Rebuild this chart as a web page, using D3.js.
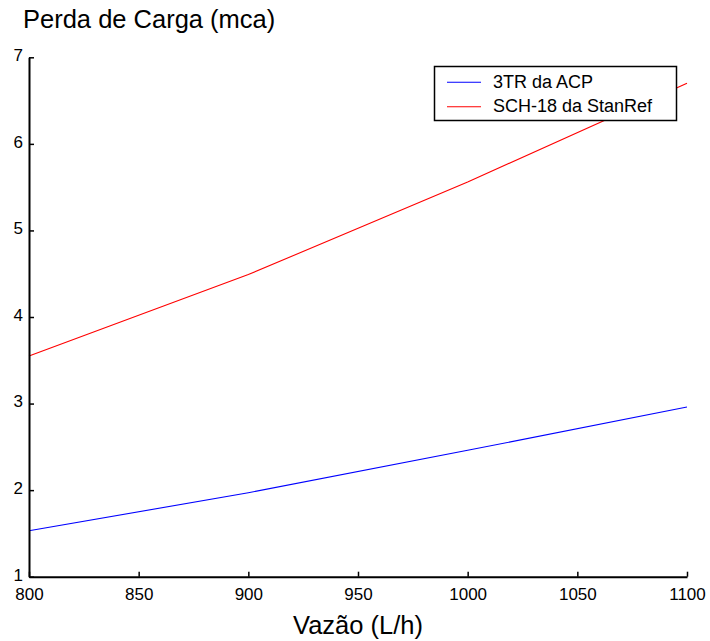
<!DOCTYPE html>
<html>
<head>
<meta charset="utf-8">
<script src="https://cdn.jsdelivr.net/npm/d3@7"></script>
<style>
  html, body { margin: 0; padding: 0; background: #fff; }
  svg { display: block; font-family: Arial, "Liberation Sans", Helvetica, sans-serif; }
</style>
</head>
<body>
<svg id="chart" width="710" height="641"></svg>
<script>
// Flow rate (L/h) and head loss (mca) for the two devices
const flowRates = [800, 900, 1000, 1100];
const loss3TR = [1.53, 1.97, 2.46, 2.96];
const lossSCH18 = [3.55, 4.49, 5.56, 6.70];
const seriesNames = ["3TR da ACP", "SCH-18 da StanRef"];
const seriesColors = ["#0000ff", "#ff0000"];
const xTicks = [800, 850, 900, 950, 1000, 1050, 1100];
const yTicks = [1, 2, 3, 4, 5, 6, 7];

const svg = d3.select("#chart");
const margin = { left: 29, top: 57.3, right: 23, bottom: 64.3 };
const W = 710, H = 641;

const x = d3.scaleLinear().domain([800, 1100]).range([margin.left, W - margin.right]);
const y = d3.scaleLinear().domain([1, 7]).range([H - margin.bottom, margin.top]);

// data lines
const line = d3.line().x(d => x(d[0])).y(d => y(d[1]));
[loss3TR, lossSCH18].forEach((vals, i) => {
  svg.append("path")
    .datum(flowRates.map((f, j) => [f, vals[j]]))
    .attr("fill", "none")
    .attr("stroke", seriesColors[i])
    .attr("stroke-width", 1.1)
    .attr("d", line);
});

// axes with inward ticks
const xAxis = svg.append("g")
  .attr("transform", `translate(0,${y(1)})`)
  .call(d3.axisBottom(x).tickValues(xTicks).tickFormat(d3.format("d"))
    .tickSizeInner(-5).tickSizeOuter(0).tickPadding(11));
const yAxis = svg.append("g")
  .attr("transform", `translate(${x(800)},0)`)
  .call(d3.axisLeft(y).tickValues(yTicks).tickFormat(d3.format("d"))
    .tickSizeInner(-5).tickSizeOuter(0).tickPadding(6));

[xAxis, yAxis].forEach(g => {
  g.select(".domain").attr("stroke", "#000").attr("stroke-width", 2);
  g.selectAll(".tick line").attr("stroke", "#000").attr("stroke-width", 1.5);
  g.selectAll(".tick text").attr("fill", "#000").style("font-size", "17px");
});
yAxis.selectAll(".tick text").attr("dy", "0.2em");

// title and axis label
svg.append("text")
  .attr("x", 23).attr("y", 28)
  .style("font-size", "25.5px").attr("fill", "#000")
  .text("Perda de Carga (mca)");
svg.append("text")
  .attr("x", (x(800) + x(1100)) / 2).attr("y", 633.5)
  .attr("text-anchor", "middle")
  .style("font-size", "25.5px").attr("fill", "#000")
  .text("Vazão (L/h)");

// legend
const legend = svg.append("g");
legend.append("rect")
  .attr("x", 434.5).attr("y", 66.5).attr("width", 242).attr("height", 54)
  .attr("fill", "#fff").attr("stroke", "#000").attr("stroke-width", 1.5);
seriesNames.forEach((name, i) => {
  const ly = 82.3 + i * 24.5;
  legend.append("line")
    .attr("x1", 447).attr("x2", 481).attr("y1", ly).attr("y2", ly)
    .attr("stroke", seriesColors[i]).attr("stroke-width", 1.1);
  legend.append("text")
    .attr("x", 493).attr("y", ly + 5.5)
    .style("font-size", "18px").attr("fill", "#000")
    .text(name);
});
</script>
</body>
</html>
